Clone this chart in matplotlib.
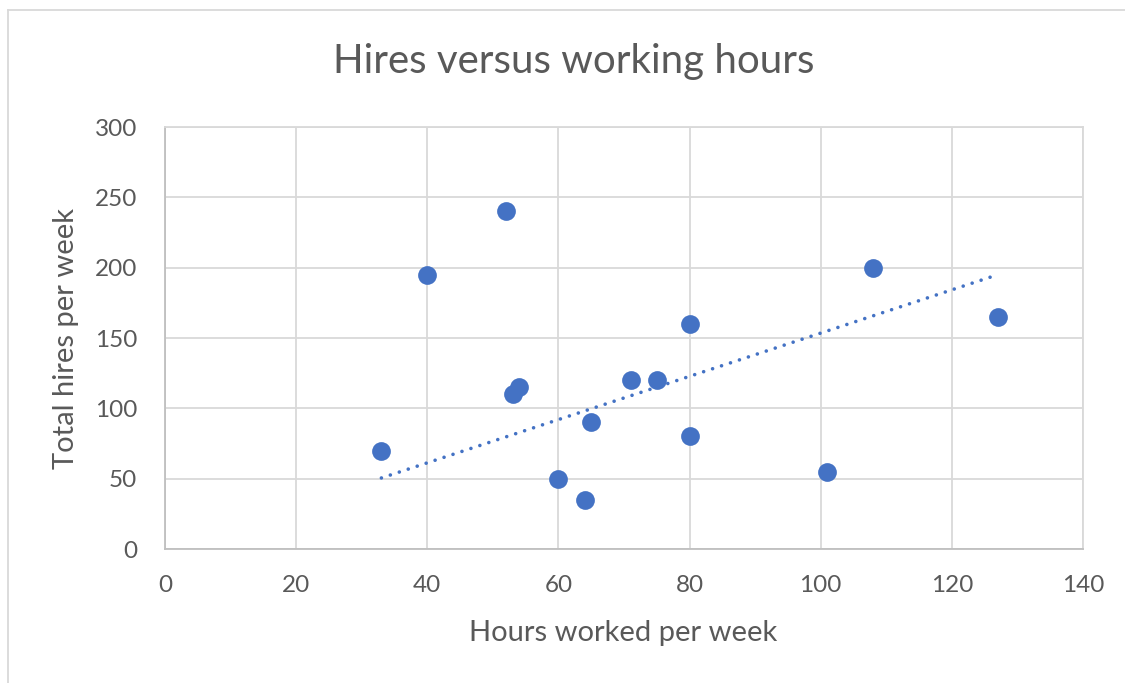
import matplotlib
matplotlib.use("Agg")
import matplotlib.pyplot as plt
from matplotlib.lines import Line2D

# data
hours = [33, 40, 52, 53, 54, 60, 64, 65, 71, 75, 80, 80, 101, 108, 127]
hires = [70, 195, 240, 110, 115, 50, 35, 90, 120, 120, 160, 80, 55, 200, 165]

# trendline as drawn in the chart
trend_hours = [33, 127]
trend_hires = [50.5, 195]

x_ticks = [0, 20, 40, 60, 80, 100, 120, 140]
y_ticks = [0, 50, 100, 150, 200, 250, 300]

blue = "#4472C4"
text_grey = "#595959"
grid_grey = "#D9D9D9"

plt.rcParams["font.family"] = ["Lato", "DejaVu Sans"]

fig = plt.figure(figsize=(11.25, 6.83), dpi=100)
ax = fig.add_axes([165 / 1125, 1 - 549 / 683, 918 / 1125, 422 / 683])

ax.plot(trend_hours, trend_hires, color=blue, linewidth=2.6,
        linestyle=(0, (0.01, 2.6)), dash_capstyle="round", zorder=3)
ax.plot(hours, hires, "o", color=blue, markersize=13.5, markeredgewidth=0, zorder=4)

ax.set_xlim(0, 140)
ax.set_ylim(0, 300)
ax.set_xticks(x_ticks)
ax.set_yticks(y_ticks)
ax.grid(True, color=grid_grey, linewidth=1.3, zorder=0)
ax.set_axisbelow(True)
ax.tick_params(length=0, labelsize=17.5, labelcolor=text_grey)
ax.tick_params(axis="y", pad=20)
ax.tick_params(axis="x", pad=19)
for side in ["top", "right"]:
    ax.spines[side].set_color(grid_grey)
    ax.spines[side].set_linewidth(1.3)
for side in ["left", "bottom"]:
    ax.spines[side].set_color("#BFBFBF")
    ax.spines[side].set_linewidth(1.3)

fig.text(574 / 1125, 1 - 62 / 683, "Hires versus working hours", ha="center",
         va="center", fontsize=29, color=text_grey)
fig.text(623 / 1125, 1 - 633 / 683, "Hours worked per week", ha="center",
         va="center", fontsize=21, color=text_grey)
fig.text(66 / 1125, 1 - 338 / 683, "Total hires per week", ha="center",
         va="center", rotation=90, fontsize=21, color=text_grey)

# chart area border (top and left edges visible in the reference)
fig.add_artist(Line2D([7.5 / 1125, 7.5 / 1125], [0, 1 - 9.5 / 683],
                      transform=fig.transFigure, color=grid_grey, linewidth=1.3))
fig.add_artist(Line2D([7.5 / 1125, 1], [1 - 9.5 / 683, 1 - 9.5 / 683],
                      transform=fig.transFigure, color=grid_grey, linewidth=1.3))

fig.savefig("out.png", dpi=100)
